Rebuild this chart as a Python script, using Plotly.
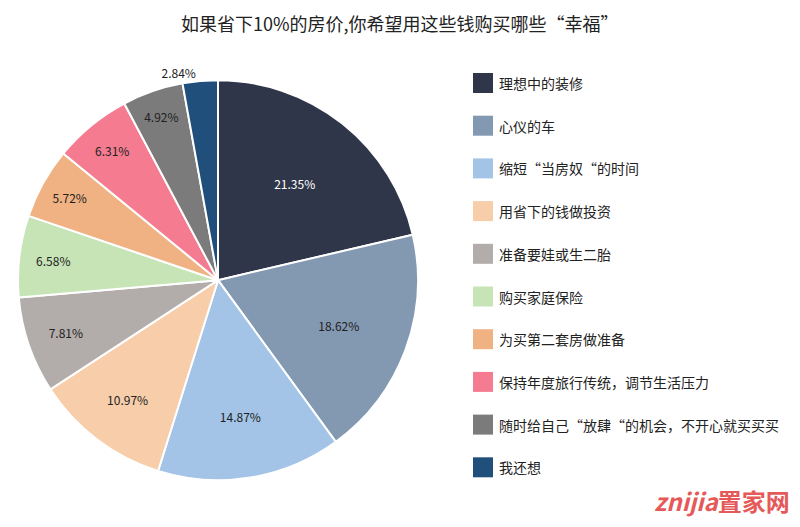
import plotly.graph_objects as go

labels = ["理想中的装修", "心仪的车", "缩短“当房奴“的时间", "用省下的钱做投资", "准备要娃或生二胎",
          "购买家庭保险", "为买第二套房做准备", "保持年度旅行传统，调节生活压力",
          "随时给自己“放肆“的机会，不开心就买买买", "我还想"]
values = [21.35, 18.62, 14.87, 10.97, 7.81, 6.58, 5.72, 6.31, 4.92, 2.84]
colors = ["#2f3649", "#8398b1", "#a3c4e6", "#f7cdaa", "#b2adab", "#c7e4b7", "#f0b283", "#f57b90", "#7b7b7b", "#204f7c"]
text_colors = ["white"] + ["#222"] * 8 + ["#222"]
text_pos = ["inside"] * 9 + ["outside"]

fig = go.Figure(go.Pie(
    labels=labels, values=values, sort=False, direction="clockwise", rotation=0,
    marker=dict(colors=colors, line=dict(color="white", width=2)),
    texttemplate="%{value:.2f}%", textposition=text_pos, insidetextorientation="horizontal",
    textfont=dict(size=12, color=text_colors, family="Noto Sans CJK SC"),
    domain=dict(x=[0.0125, 0.5125], y=[0.104, 0.863]), showlegend=False, hoverinfo="skip",
))

shapes, anns = [], []
for i, (lab, col) in enumerate(zip(labels, colors)):
    yc = 75 + i * 42.7
    shapes.append(dict(type="rect", xref="paper", yref="paper", x0=465/800, x1=485/800,
                       y0=1-(yc+10)/527, y1=1-(yc-10)/527, fillcolor=col, line=dict(width=0)))
    anns.append(dict(xref="paper", yref="paper", x=489/800, y=1-yc/527, text=lab, showarrow=False,
                     xanchor="left", yanchor="middle", font=dict(size=14, color="#222", family="Noto Sans CJK SC")))
anns.append(dict(xref="paper", yref="paper", x=392/800, y=1, text="如果省下10%的房价,你希望用这些钱购买哪些“幸福”",
                 showarrow=False, xanchor="center", yanchor="top", font=dict(size=18, color="#222", family="Noto Sans CJK SC")))
anns.append(dict(xref="paper", yref="paper", x=784/800, y=1-492/527, text="<b><i>znijia</i></b><b>置家网</b>", showarrow=False,
                 xanchor="right", yanchor="middle", font=dict(size=24, color="#e03030", family="Noto Sans CJK SC"), opacity=0.8))

fig.update_layout(width=800, height=527, margin=dict(l=0, r=0, t=0, b=0), paper_bgcolor="white",
                  shapes=shapes, annotations=anns)
fig.write_html("out.html")
